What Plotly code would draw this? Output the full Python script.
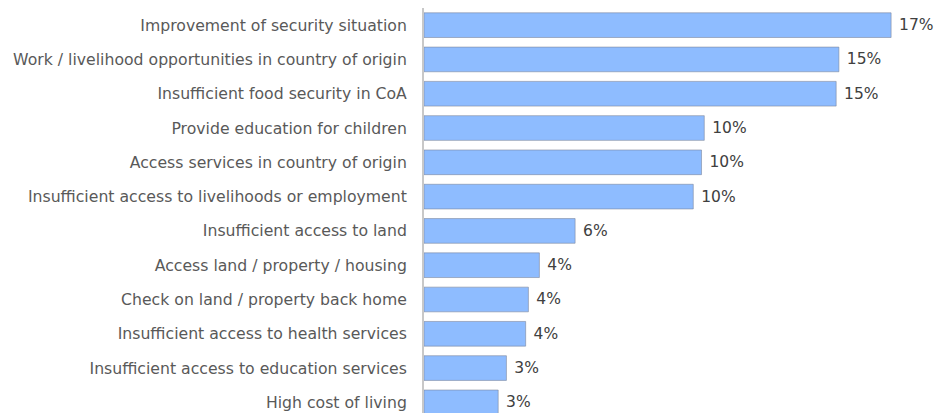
import plotly.graph_objects as go

# Reasons cited, top to bottom, with share of respondents (%)
categories = [
    "Improvement of security situation",
    "Work / livelihood opportunities in country of origin",
    "Insufficient food security in CoA",
    "Provide education for children",
    "Access services in country of origin",
    "Insufficient access to livelihoods or employment",
    "Insufficient access to land",
    "Access land / property / housing",
    "Check on land / property back home",
    "Insufficient access to health services",
    "Insufficient access to education services",
    "High cost of living",
]
shares = [17.0, 15.1, 15.0, 10.2, 10.1, 9.8, 5.5, 4.2, 3.8, 3.7, 3.0, 2.7]

fig = go.Figure(
    go.Bar(
        x=shares,
        y=categories,
        orientation="h",
        marker=dict(color="#8EBCFF", line=dict(color="rgba(120,130,150,0.55)", width=1)),
        texttemplate=" %{x:.0f}%",
        textposition="outside",
        textfont=dict(family="DejaVu Sans", size=15.5, color="#404040"),
        cliponaxis=False,
        width=0.72,
    )
)

fig.update_layout(
    width=937,
    height=413,
    margin=dict(l=424, r=0, t=8, b=0),
    plot_bgcolor="white",
    paper_bgcolor="white",
    showlegend=False,
    xaxis=dict(
        range=[0, 18.67],
        visible=False,
        showgrid=False,
        zeroline=False,
    ),
    yaxis=dict(
        range=[11.31, -0.5],
        showgrid=False,
        zeroline=False,
        showline=True,
        linecolor="#c8c8c8",
        linewidth=2,
        ticks="outside",
        ticklen=12,
        tickcolor="rgba(0,0,0,0)",
        tickfont=dict(family="DejaVu Sans", size=15.7, color="#595959"),
    ),
)

fig.write_html("out.html")
